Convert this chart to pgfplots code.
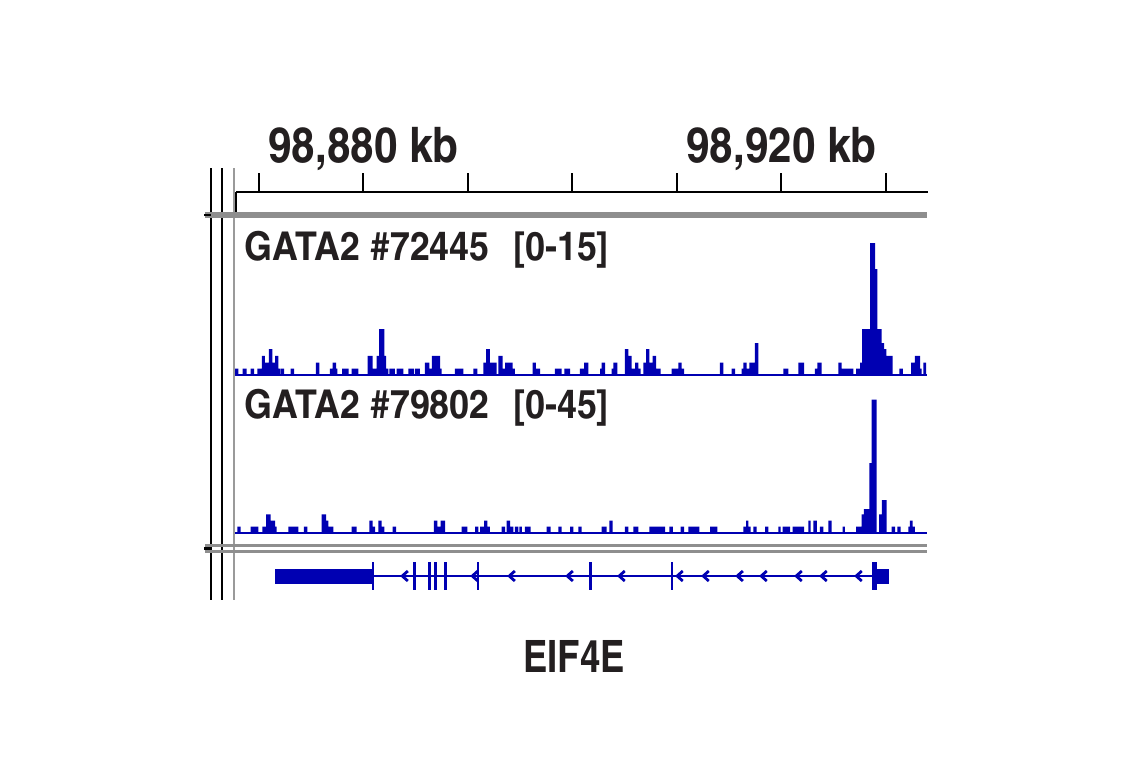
\documentclass[border=0pt]{standalone}
\usepackage{pgfplots}
\pgfplotsset{compat=1.18}
\usepackage{fontspec}
\newfontfamily\cnb{texgyreheroscn-bold}[Extension=.otf]
\newfontfamily\cnr{texgyreheroscn-bold}[Extension=.otf, FakeStretch=1.05]
\newfontfamily\cnw{texgyreheroscn-bold}[Extension=.otf, FakeStretch=1.1]
\definecolor{igv}{RGB}{0,0,178}
\definecolor{txt}{HTML}{231F20}
\definecolor{sep}{HTML}{8E8E8E}
\definecolor{vgray}{HTML}{9A9A9A}
\pgfdeclareplotmark{chev}{%
  \pgfpathmoveto{\pgfqpoint{1.4pt}{2.5pt}}%
  \pgfpathlineto{\pgfqpoint{-1.4pt}{0pt}}%
  \pgfpathlineto{\pgfqpoint{1.4pt}{-2.5pt}}%
  \pgfusepathqstroke}
\pgfplotsset{
  base/.style={scale only axis, width=346pt, anchor=south west,
    xmin=98867.80, xmax=98934.02, scaled x ticks=false, scaled y ticks=false},
  trk/.style={base, height=75pt, ymin=0, axis x line*=bottom, axis y line=none,
    xtick=\empty, ytick=\empty, axis line style={igv, line width=0.8pt}},
  ex/.style={fill=igv, draw=none, forget plot},
}
\begin{document}
\begin{tikzpicture}[x=0.5pt,y=0.5pt]
\useasboundingbox (0,0) rectangle (1141,768);

% frame lines
\draw[black, line width=0.8pt] (211,600)--(211,168);
\draw[black, line width=0.8pt] (222,600)--(222,168);
\draw[vgray, line width=1.2pt] (234,600)--(234,168);
\draw[sep, line width=2.6pt] (205,553)--(927,553);
\draw[black, line width=1.2pt] (204,553)--(211,553);
\draw[sep, line width=1.6pt] (205,222.5)--(927,222.5);
\draw[sep, line width=1.6pt] (205,216.5)--(927,216.5);
\draw[black, line width=1.2pt] (204,219.5)--(211,219.5);
\draw[black, line width=0.8pt] (236,576)--(236,556);

% ruler
\begin{axis}[base, at={(118pt,288pt)}, height=12pt, ymin=0, ymax=1, clip=false,
  axis x line*=bottom, axis y line=none,
  xtick={98870,98880,98890,98900,98910,98920,98930}, xticklabels=\empty, ytick=\empty,
  tick align=inside, major tick length=9.5pt,
  tick style={black, line width=1pt}, axis line style={black, line width=0.8pt}]
\node[anchor=base, inner sep=0pt, text=txt, font=\cnr\fontsize{24.5pt}{25pt}\selectfont]
  at (axis cs:98880,1) [yshift=3pt] {98,880 kb};
\node[anchor=base, inner sep=0pt, text=txt, font=\cnr\fontsize{24.5pt}{25pt}\selectfont]
  at (axis cs:98920,1) [yshift=3pt] {98,920 kb};
\end{axis}

% track 1: GATA2 #72445 [0-15]
\begin{axis}[trk, at={(117.5pt,196.5pt)}, ymax=15]
\addplot[const plot, fill=igv, draw=none] coordinates {
(98867.80,0.63) (98868.12,0) (98868.54,0.63) (98868.92,0) (98869.30,0.63) (98869.62,0)
(98869.93,0.63) (98870.36,1.92) (98870.67,1.25) (98871.05,2.58) (98871.37,1.25)
(98871.63,1.92) (98871.94,0.63) (98872.11,0) (98872.17,0.63) (98872.49,0)
(98873.13,0.63) (98873.45,0) (98875.55,1.25) (98875.87,0) (98876.89,0.63)
(98877.15,1.25) (98877.47,0.63) (98877.59,0) (98878.04,0.63) (98878.68,0)
(98878.97,0.63) (98879.60,0) (98880.50,1.92) (98880.98,0.63) (98881.36,1.92)
(98881.58,4.6) (98882.09,1.92) (98882.25,0.63) (98882.47,0) (98882.57,0.63)
(98883.11,0) (98883.27,0.63) (98883.91,0) (98884.38,0.63) (98884.93,0)
(98885.03,0.63) (98885.50,0) (98885.98,1.25) (98886.39,0.63) (98886.65,1.92)
(98887.42,0.63) (98887.58,0) (98888.85,0.63) (98889.65,0) (98890.60,0.63)
(98890.99,0) (98891.56,1.25) (98891.82,2.58) (98892.20,1.25) (98892.84,0)
(98893.00,1.92) (98893.42,0.63) (98893.64,1.25) (98894.37,0.63) (98894.59,0)
(98896.29,1.25) (98896.60,0.63) (98896.99,0) (98898.42,0.63) (98899.06,0)
(98899.31,0.63) (98899.86,0) (98900.81,0.63) (98901.20,1.25) (98901.61,0)
(98902.73,0.63) (98902.89,1.25) (98903.21,0) (98903.85,0.63) (98904.00,1.25)
(98904.38,0) (98905.12,2.58) (98905.44,1.92) (98905.76,0.63) (98906.08,1.25)
(98906.39,0.63) (98906.62,0) (98906.87,1.25) (98907.13,2.58) (98907.45,1.25)
(98907.77,1.92) (98908.09,0.63) (98908.54,0) (98909.59,0.63) (98910.22,1.25)
(98910.55,0.63) (98910.77,0) (98914.21,1.25) (98914.53,0) (98915.33,0.63)
(98915.65,0) (98916.29,0.63) (98916.44,1.25) (98916.77,0.63) (98917.02,1.25)
(98917.56,3.2) (98917.88,0) (98920.27,0.63) (98920.75,0) (98921.71,1.25)
(98922.25,0) (98923.30,0.63) (98923.52,1.25) (98923.94,0) (98925.53,1.25)
(98925.86,0.63) (98926.97,0) (98927.23,0.63) (98927.61,1.25) (98927.80,4.6)
(98928.57,13.2) (98929.05,10.6) (98929.28,4.6) (98929.67,3.2) (98929.91,2.58)
(98930.14,1.92) (98930.72,0) (98931.37,0.63) (98931.70,0) (98932.49,1.25)
(98932.87,1.92) (98933.35,0.63) (98933.51,0) (98933.67,1.25) (98933.93,0)
} \closedcycle;
\end{axis}

% track 2: GATA2 #79802 [0-45]
\begin{axis}[trk, at={(117.5pt,117.5pt)}, ymax=45]
\addplot[const plot, fill=igv, draw=none] coordinates {
(98867.80,0) (98868.02,1.9) (98868.35,0) (98869.30,1.9) (98870.03,0) (98870.41,1.9)
(98870.77,5.6) (98871.22,3.75) (98871.63,1.9) (98871.79,0) (98872.90,1.9)
(98873.86,0) (98874.40,1.9) (98874.72,0) (98876.10,5.6) (98876.51,3.75)
(98876.73,1.9) (98877.21,0) (98878.97,1.9) (98879.45,0) (98880.65,3.75)
(98880.98,1.9) (98881.20,0) (98881.51,3.75) (98881.84,1.9) (98882.09,0)
(98882.89,1.9) (98883.21,0) (98886.84,3.75) (98887.16,1.9) (98887.48,3.75)
(98887.90,0) (98889.49,1.9) (98890.03,0) (98890.77,1.9) (98891.08,0)
(98891.25,1.9) (98891.63,3.75) (98891.94,1.9) (98892.20,0) (98893.32,1.9)
(98893.64,0) (98893.80,3.75) (98894.12,1.9) (98894.43,0) (98894.59,1.9)
(98894.91,0) (98895.01,1.9) (98895.24,0) (98895.55,1.9) (98896.10,0)
(98897.63,1.9) (98898.01,0) (98898.74,1.9) (98899.06,0) (98899.86,1.9)
(98900.17,0) (98900.65,1.9) (98900.98,0) (98902.89,1.9) (98903.37,0)
(98903.62,3.75) (98903.94,0) (98905.12,1.9) (98905.44,0) (98905.92,1.9)
(98906.39,0) (98907.45,1.9) (98908.95,0) (98909.36,1.9) (98909.69,0)
(98910.45,1.9) (98910.77,0) (98911.18,1.9) (98912.23,0) (98913.26,1.9)
(98913.95,0) (98916.44,1.9) (98916.70,3.75) (98916.92,1.9) (98917.15,0)
(98917.40,1.9) (98917.72,0) (98918.52,1.9) (98918.83,0) (98919.79,1.9)
(98920.02,0) (98920.21,1.9) (98920.91,0) (98921.17,1.9) (98922.25,0)
(98922.66,3.75) (98922.89,0) (98923.14,3.75) (98923.47,0) (98923.78,1.9)
(98924.10,0) (98924.58,3.75) (98924.90,0) (98925.95,1.9) (98926.17,0)
(98927.23,1.9) (98927.77,5.6) (98927.99,7.2) (98928.50,21) (98928.73,40)
(98929.21,0) (98929.43,5.6) (98929.69,9.9) (98930.16,0) (98930.64,1.9)
(98930.96,0) (98931.18,1.9) (98931.50,0) (98932.23,1.9) (98932.39,3.75)
(98932.65,1.9) (98932.87,0)
} \closedcycle;
\end{axis}

% gene track EIF4E
\begin{axis}[base, at={(117.5pt,86pt)}, height=20pt, ymin=-1, ymax=1, hide axis]
\addplot[igv, line width=1pt] coordinates {(98881.10,0) (98928.76,0)};
\addplot[ex] coordinates {(98871.63,-0.375) (98880.88,-0.375) (98880.88,0.375) (98871.63,0.375)};
\addplot[ex] coordinates {(98880.88,-0.7) (98881.13,-0.7) (98881.13,0.7) (98880.88,0.7)};
\addplot[ex] coordinates {(98884.86,-0.7) (98885.09,-0.7) (98885.09,0.7) (98884.86,0.7)};
\addplot[ex] coordinates {(98886.30,-0.7) (98886.56,-0.7) (98886.56,0.7) (98886.30,0.7)};
\addplot[ex] coordinates {(98886.87,-0.7) (98887.10,-0.7) (98887.10,0.7) (98886.87,0.7)};
\addplot[ex] coordinates {(98887.83,-0.7) (98888.09,-0.7) (98888.09,0.7) (98887.83,0.7)};
\addplot[ex] coordinates {(98890.93,-0.7) (98891.15,-0.7) (98891.15,0.7) (98890.93,0.7)};
\addplot[ex] coordinates {(98901.68,-0.7) (98901.93,-0.7) (98901.93,0.7) (98901.68,0.7)};
\addplot[ex] coordinates {(98909.52,-0.7) (98909.74,-0.7) (98909.74,0.7) (98909.52,0.7)};
\addplot[ex] coordinates {(98928.73,-0.7) (98929.27,-0.7) (98929.27,0.7) (98928.73,0.7)};
\addplot[ex] coordinates {(98929.27,-0.375) (98930.41,-0.375) (98930.41,0.375) (98929.27,0.375)};
\addplot[igv, only marks, mark=chev, mark options={line width=1.4pt}] coordinates {
(98884.07,0) (98890.77,0) (98894.31,0) (98899.86,0) (98904.83,0) (98910.38,0)
(98912.87,0) (98916.13,0) (98918.42,0) (98921.77,0) (98924.16,0) (98927.51,0)};
\end{axis}

% labels
\node[anchor=base west, inner sep=0pt, text=txt, font=\cnw\fontsize{19.85pt}{20pt}\selectfont] at (244,508) {GATA2 \#72445};
\node[anchor=base west, inner sep=0pt, text=txt, font=\cnw\fontsize{19.85pt}{20pt}\selectfont] at (513,508) {[0-15]};
\node[anchor=base west, inner sep=0pt, text=txt, font=\cnw\fontsize{19.85pt}{20pt}\selectfont] at (244,350) {GATA2 \#79802};
\node[anchor=base west, inner sep=0pt, text=txt, font=\cnw\fontsize{19.85pt}{20pt}\selectfont] at (513,350) {[0-45]};
\node[anchor=base, inner sep=0pt, text=txt, font=\cnb\fontsize{22.3pt}{23pt}\selectfont] at (574,96) {EIF4E};
\end{tikzpicture}
\end{document}
